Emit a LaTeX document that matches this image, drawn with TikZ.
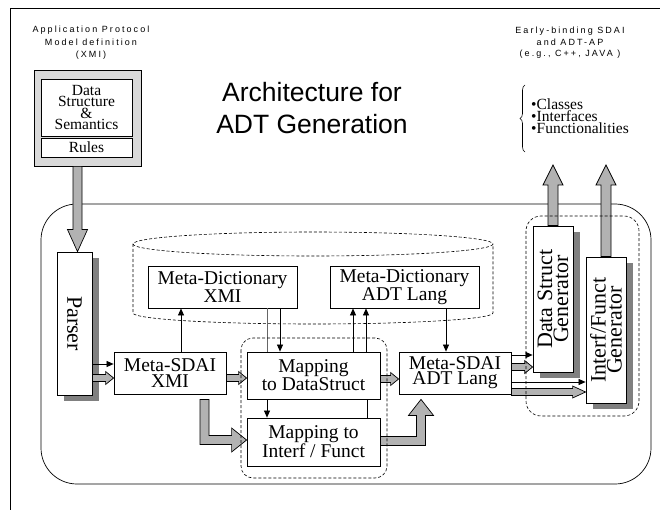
\documentclass[tikz,border=0pt]{standalone}
\usepackage{fontspec}
\setmainfont{Liberation Serif}
\newfontfamily\labelfont[LetterSpace=23]{Liberation Sans}
\newfontfamily\titlefont{Liberation Sans}
\usetikzlibrary{arrows.meta,shadows,decorations.pathreplacing,calc}

\tikzset{
  box/.style={draw, line width=0.8pt, fill=white, inner sep=0pt, align=center},
  shadowed/.style={drop shadow={shadow xshift=7pt, shadow yshift=-6pt, fill=black!50, opacity=1}},
  link/.style={line width=0.7pt, -{Triangle[length=7pt,width=6pt]}},
  plainlink/.style={line width=0.7pt},
  fatarrow/.style={draw, line width=0.7pt, fill=black!30},
  dashbox/.style={draw, line width=0.6pt, dash pattern=on 3pt off 2pt},
  boxfont/.style={font=\fontsize{19.5}{#1}\selectfont},
  genfont/.style={font=\fontsize{22}{16}\selectfont},
}

% horizontal block arrow: from, to, shaft half width, head half width, head length
\newcommand\fatH[5]{%
  \path[fatarrow] let \p1=#1, \p2=#2 in
    (\x1,\y1+#3) -- (\x2-#5,\y1+#3) -- (\x2-#5,\y1+#4) -- (\x2,\y1)
    -- (\x2-#5,\y1-#4) -- (\x2-#5,\y1-#3) -- (\x1,\y1-#3) -- cycle;}
% upward block arrow
\newcommand\fatUp[5]{%
  \path[fatarrow] let \p1=#1, \p2=#2 in
    (\x1-#3,\y1) -- (\x1-#3,\y2-#5) -- (\x1-#4,\y2-#5) -- (\x1,\y2)
    -- (\x1+#4,\y2-#5) -- (\x1+#3,\y2-#5) -- (\x1+#3,\y1) -- cycle;}
% downward block arrow
\newcommand\fatDown[5]{%
  \path[fatarrow] let \p1=#1, \p2=#2 in
    (\x1-#3,\y1) -- (\x1-#3,\y2+#5) -- (\x1-#4,\y2+#5) -- (\x1,\y2)
    -- (\x1+#4,\y2+#5) -- (\x1+#3,\y2+#5) -- (\x1+#3,\y1) -- cycle;}

\begin{document}
\begin{tikzpicture}[x=1pt,y=-1pt]
\useasboundingbox (0,0) rectangle (660,510);

% page frame
\draw[line width=0.8pt] (10,510) -- (10,8) -- (660,8);

% captions
\node[font=\labelfont\fontsize{9}{12.5}\selectfont, align=center] (apmlabel) at (91,43)
  {Application Protocol\\Model definition\\(XMI)};
\node[font=\labelfont\fontsize{9}{11.5}\selectfont, align=center] (eblabel) at (570,43)
  {Early-binding SDAI\\and ADT-AP\\(e.g., C++, JAVA )};
\node[font=\titlefont\fontsize{26.5}{32}\selectfont, align=center] (title) at (312,108.5)
  {Architecture for\\ADT Generation};
\node[font=\fontsize{15.5}{12}\selectfont, align=left, anchor=west, inner sep=0pt] (features) at (531,116)
  {\textbullet Classes\\\textbullet Interfaces\\\textbullet Functionalities};
\draw[line width=0.6pt, decorate, decoration={brace, amplitude=5pt}] (525,152) -- (525,85);

% application protocol model
\node[box, fill=black!15, minimum width=107pt, minimum height=96pt] (apbox) at (87.5,118) {};
\node[box, minimum width=91pt, minimum height=57pt, font=\fontsize{15.5}{11.5}\selectfont] (dss) at (86.5,107.5)
  {Data\\Structure\\\&\\Semantics};
\node[box, minimum width=91pt, minimum height=19pt, font=\fontsize{15.5}{12}\selectfont] (rules) at (86.5,147.5) {Rules};

% generation environment
\draw[line width=0.7pt, rounded corners=36pt] (41,204) rectangle (651,484);

% dictionary store
\draw[dashbox] (313,244) ellipse [x radius=180, y radius=12];
\draw[dashbox] (133,244) -- (133,313) arc [start angle=180, end angle=0, x radius=180, y radius=11] -- (493,244);

% components
\node[box, shadowed, minimum width=35pt, minimum height=143pt] (parser) at (74.5,323.5) {};
\node[rotate=-90, font=\fontsize{22}{22}\selectfont, inner sep=0pt] (parserlabel) at (parser.center) {Parser};

\node[box, boxfont=14, minimum width=149pt, minimum height=42pt] (mdx) at (222.5,287) {Meta-Dictionary\\XMI};
\node[box, boxfont=14, minimum width=149pt, minimum height=42pt] (mda) at (404.5,287) {Meta-Dictionary\\ADT Lang};
\node[box, boxfont=15.5, minimum width=112pt, minimum height=42pt] (msx) at (170,373) {Meta-SDAI\\XMI};
\node[box, boxfont=18, minimum width=133pt, minimum height=47pt] (mds) at (313.5,375.5) {Mapping\\to DataStruct};
\node[box, boxfont=17.7, minimum width=133pt, minimum height=48pt] (mif) at (313.5,442) {Mapping to\\Interf / Funct};
\node[box, boxfont=15, minimum width=112pt, minimum height=42pt] (msa) at (455,373) {Meta-SDAI\\ADT Lang};

\node[box, shadowed, minimum width=40pt, minimum height=146pt] (dsg) at (553,299) {};
\node[rotate=90, genfont, align=center, inner sep=0pt] (dsglabel) at (dsg.center) {Data Struct\\Generator};
\node[box, shadowed, minimum width=40pt, minimum height=146pt] (ifg) at (606,330) {};
\node[rotate=90, genfont, align=center, inner sep=0pt] (ifglabel) at (ifg.center) {Interf/Funct\\Generator};

\coordinate (dsout) at (553,165);
\coordinate (ifout) at (606,165);

% block arrows
\fatDown{($(apbox.south)+(-10,0)$)}{(parser.north)}{4.5pt}{10pt}{22pt}
\fatH{($(parser.east |- msx.west)+(0,5)$)}{($(msx.west)+(0,5)$)}{3.5pt}{6.5pt}{8pt}
\fatH{($(msx.east)+(0,5)$)}{($(mds.west |- msx.east)+(0,5)$)}{3.5pt}{6.5pt}{8pt}
\fatH{($(mds.east |- msa.west)+(0,6)$)}{($(msa.west)+(0,6)$)}{3.5pt}{6.5pt}{8pt}
\fatH{($(msa.east)+(0,-6)$)}{($(dsg.west |- msa.east)+(0,-6)$)}{3.5pt}{6.5pt}{8pt}
\fatH{($(msa.east)+(0,19)$)}{($(ifg.west |- msa.east)+(0,19)$)}{3.5pt}{6pt}{13pt}
\fatUp{(dsg.north)}{(dsout)}{5pt}{10pt}{20pt}
\fatUp{(ifg.north)}{(ifout)}{5pt}{10pt}{20pt}

% Meta-SDAI XMI to Mapping to Interf / Funct
\path[fatarrow] let \p1=($(msx.south)+(34.5,5)$), \p2=($(mif.west)+(0,-2)$) in
  (\x1-4.5pt,\y1) -- (\x1+4.5pt,\y1) -- (\x1+4.5pt,\y2+4.5pt) -- (\x2-15pt,\y2+4.5pt)
  -- (\x2-15pt,\y2+12pt) -- (\x2,\y2) -- (\x2-15pt,\y2-12pt) -- (\x2-15pt,\y2-4.5pt)
  -- (\x1-4.5pt,\y2-4.5pt) -- cycle;
% Mapping to Interf / Funct to Meta-SDAI ADT Lang
\path[fatarrow] let \p1=($(mif.east)+(0,-1)$), \p2=($(msa.south)+(-34,5)$) in
  (\x1,\y1+4.5pt) -- (\x2-4.5pt,\y1+4.5pt) -- (\x2-4.5pt,\y2-16pt) -- (\x2-12.5pt,\y2-16pt)
  -- (\x2,\y2) -- (\x2+12.5pt,\y2-16pt) -- (\x2+4.5pt,\y2-16pt) -- (\x2+4.5pt,\y1-4.5pt)
  -- (\x1,\y1-4.5pt) -- cycle;

% thin connectors
\draw[link] ($(parser.east |- msx.west)+(0,-9)$) -- ($(msx.west)+(0,-9)$);
\draw[link] ($(msx.north)+(11,0)$) -- ($(mdx.south)+(-41.5,0)$);
\draw[plainlink, draw=black!60] ($(mdx.south)+(44.5,0)$) -- ($(mds.north)+(-46.5,0)$);
\draw[link] ($(mdx.south)+(57.5,0)$) -- ($(mds.north)+(-33.5,0)$);
\draw[link] ($(mds.north)+(39.5,0)$) -- ($(mda.south)+(-51.5,0)$);
\draw[link] ($(mds.north)+(52.5,0)$) -- ($(mda.south)+(-38.5,0)$);
\draw[link] ($(mda.south)+(41.5,0)$) -- ($(msa.north)+(-9,0)$);
\draw[link] ($(mds.south)+(-46.5,0)$) -- ($(mif.north)+(-46.5,0)$);
\draw[plainlink] ($(mds.south)+(53.5,0)$) -- ($(mif.north)+(53.5,0)$);
\draw[link] ($(msa.east)+(0,-18)$) -- ($(dsg.west |- msa.east)+(0,-18)$);
\draw[link] ($(msa.east)+(0,9)$) -- ($(ifg.west |- msa.east)+(0,9)$);

% groupings
\draw[dashbox, rounded corners=12pt] (241,338) rectangle (387,478);
\draw[dashbox, rounded corners=15pt] (526,216) rectangle (639,416);
\end{tikzpicture}
\end{document}
